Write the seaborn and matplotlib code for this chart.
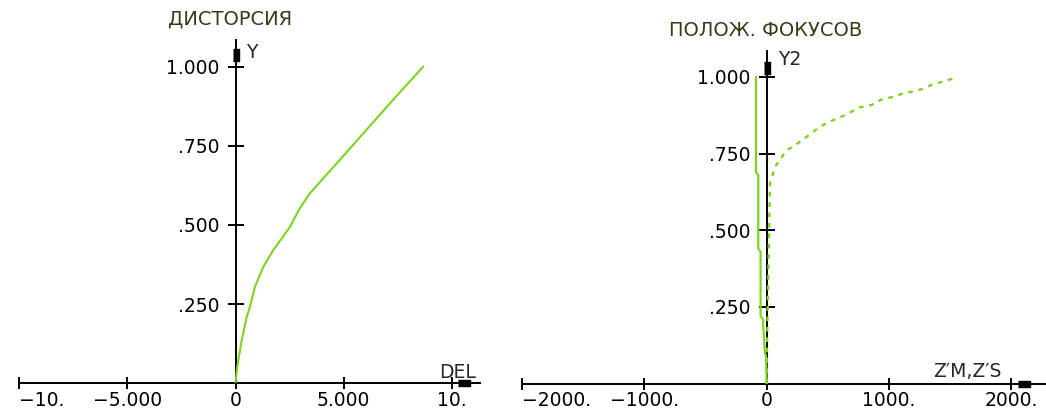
import matplotlib
matplotlib.use("Agg")
import matplotlib.pyplot as plt
import numpy as np
import pandas as pd
import seaborn as sns

# ---------------- data ----------------
# Left panel: distortion
dist_y = [0.0, 0.052, 0.137, 0.21, 0.242, 0.305, 0.368, 0.421, 0.494, 0.55, 0.60, 0.70, 0.80, 0.90, 1.0]
dist_del = [0.0, 0.08, 0.29, 0.52, 0.67, 0.90, 1.29, 1.75, 2.52, 2.95, 3.44, 4.75, 6.05, 7.35, 8.68]

# Right panel: focus positions (solid = Z'M, dotted = Z'S)
zm_y = [0.0, 0.09, 0.10, 0.20, 0.21, 0.22, 0.43, 0.44, 0.68, 0.69, 1.0]
zm_x = [0.0, -5.0, -15.0, -30.0, -30.0, -50.0, -50.0, -69.0, -69.0, -88.0, -88.0]

zs_y = [0.0, 0.10, 0.25, 0.40, 0.50, 0.60, 0.653, 0.707, 0.762, 0.773, 0.805, 0.838, 0.857,
        0.873, 0.901, 0.909, 0.927, 0.934, 0.945, 0.952, 0.960, 0.977, 0.985, 0.996]
zs_x = [0.0, 2.0, 8.0, 15.0, 20.0, 24.0, 27.0, 68.0, 164.0, 217.0, 327.0, 436.0, 531.0,
        626.0, 763.0, 859.0, 940.0, 1022.0, 1104.0, 1186.0, 1267.0, 1362.0, 1444.0, 1531.0]

left_xticks = [-10, -5, 0, 5, 10]
left_xticklabels = ["\u221210.", "\u22125.000", "0", "5.000", "10."]
right_xticks = [-2000, -1000, 0, 1000, 2000]
right_xticklabels = ["\u22122000.", "\u22121000.", "0", "1000.", "2000."]
yticks = [0.25, 0.5, 0.75, 1.0]
yticklabels = [".250", ".500", ".750", "1.000"]

left_title = "ДИСТОРСИЯ"
right_title = "ПОЛОЖ. ФОКУСОВ"
left_xlabel = "DEL"
left_ylabel = "Y"
right_xlabel = "Z\u2032M,Z\u2032S"
right_ylabel = "Y2"

# ---------------- style ----------------
sns.set_style("white")
plt.rcParams["font.family"] = ["DejaVu Sans"]

GREEN = "#7ed321"
TITLE_C = "#3a3a18"
FS = 13.5
FS_T = 14

W, H = 1046, 411
fig = plt.figure(figsize=(W / 100, H / 100), dpi=100)


def px_axes(x0, x1, ytop, ybot):
    return fig.add_axes([x0 / W, 1 - ybot / H, (x1 - x0) / W, (ybot - ytop) / H])


# left axes: X px = 235.5 + 21.63*X ; Y px = 383.3 - 316.7*Y
axL = px_axes(235.5 - 21.63 * 10, 235.5 + 21.63 * 11.3, 383.3 - 316.7 * 1.085, 383.3)
axL.set_xlim(-10, 11.3)
axL.set_ylim(0, 1.085)
# right axes: X px = 766.7 + 0.1223*X ; Y px = 383.5 - 306.5*Y
axR = px_axes(766.7 - 0.1223 * 2000, 766.7 + 0.1223 * 2284, 383.5 - 306.5 * 1.085, 383.5)
axR.set_xlim(-2000, 2284)
axR.set_ylim(0, 1.085)

dfL = pd.DataFrame({"DEL": dist_del, "Y": dist_y})
sns.lineplot(data=dfL, x="DEL", y="Y", sort=False, estimator=None, ax=axL,
             color=GREEN, lw=1.5)

dfM = pd.DataFrame({"Z": zm_x, "Y": zm_y})
dfS = pd.DataFrame({"Z": zs_x, "Y": zs_y})
sns.lineplot(data=dfM, x="Z", y="Y", sort=False, estimator=None, ax=axR,
             color=GREEN, lw=1.6)
sns.lineplot(data=dfS, x="Z", y="Y", sort=False, estimator=None, ax=axR,
             color=GREEN, lw=1.7, linestyle=(0, (2.0, 2.4)))

for ax, xt, xtl in ((axL, left_xticks, left_xticklabels),
                    (axR, right_xticks, right_xticklabels)):
    ax.set_facecolor("none")
    for s in ("top", "right"):
        ax.spines[s].set_visible(False)
    ax.spines["left"].set_position(("data", 0))
    ax.spines["bottom"].set_position(("data", 0))
    for s in ("left", "bottom"):
        ax.spines[s].set_color("black")
        ax.spines[s].set_linewidth(1.4)
        ax.spines[s].set_zorder(1)
    ax.set_xticks(xt)
    ax.set_xticklabels(xtl)
    ax.set_yticks(yticks)
    ax.set_yticklabels(yticklabels)
    ax.tick_params(axis="x", bottom=True, direction="inout", length=8, width=1.4, pad=1.5,
                   labelsize=FS, colors="black")
    ax.tick_params(axis="y", left=True, direction="inout", length=11, width=1.4, pad=6,
                   labelsize=FS, colors="black")
    ax.set_xlabel("")
    ax.set_ylabel("")
    ax.get_xticklabels()[0].set_horizontalalignment("left")
    ax.grid(False)

# arrow-head blocks at the axis ends (axes-fraction positions)
vbox = [(-0.5, -1), (0.5, -1), (0.5, 1), (-0.5, 1)]
hbox = [(-1, -0.6), (1, -0.6), (1, 0.6), (-1, 0.6)]
axL.plot(0, 0.956, marker=vbox, ms=9, color="black", transform=axL.get_xaxis_transform(), clip_on=False)
axL.plot(0.965, 0, marker=hbox, ms=8, color="black", transform=axL.get_yaxis_transform(), clip_on=False)
axR.plot(0, 0.950, marker=vbox, ms=9, color="black", transform=axR.get_xaxis_transform(), clip_on=False)
axR.plot(0.958, 0, marker=hbox, ms=8, color="black", transform=axR.get_yaxis_transform(), clip_on=False)

# axis names
axL.text(9.4, 0.017, left_xlabel, fontsize=FS, ha="left", va="baseline", clip_on=False)
axL.text(0.49, 1.027, left_ylabel, fontsize=FS, ha="left", va="baseline", clip_on=False)
axR.text(1362, 0.021, right_xlabel, fontsize=FS, ha="left", va="baseline", clip_on=False)
axR.text(92, 1.039, right_ylabel, fontsize=FS, ha="left", va="baseline", clip_on=False)

# titles
fig.text(230 / W, 1 - 19 / H, left_title, fontsize=FS_T, color=TITLE_C, ha="center", va="center")
fig.text(766 / W, 1 - 31 / H, right_title, fontsize=FS_T, color=TITLE_C, ha="center", va="center")

fig.savefig("out.png", dpi=100, facecolor="white")
